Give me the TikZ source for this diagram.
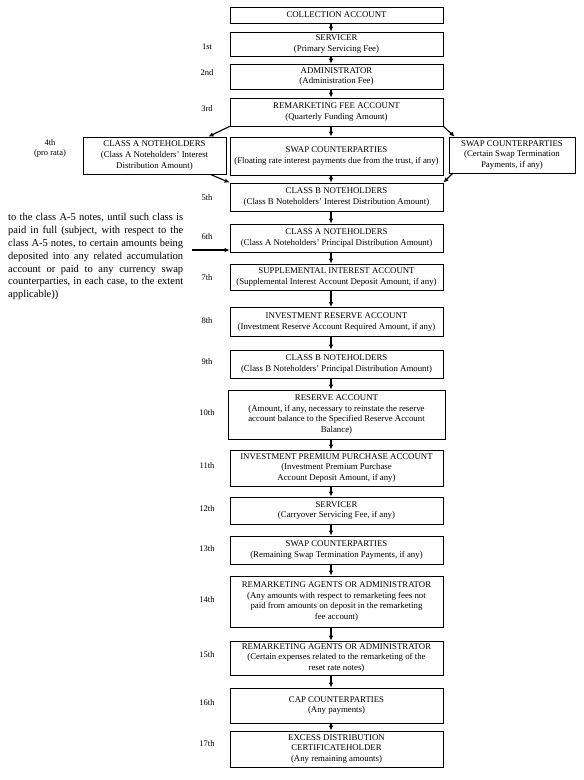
\documentclass[tikz,border=0pt]{standalone}
\usepackage{fontspec}
\setmainfont{Liberation Serif}
\usetikzlibrary{arrows.meta,calc}
\begin{document}
\begin{tikzpicture}[x=1pt,y=-1pt,
  bx/.style={draw,line width=0.8pt,minimum width=213pt,inner sep=1pt,align=center,
    font=\fontsize{8.8}{10.8}\selectfont},
  lbl/.style={font=\fontsize{8.5}{10}\selectfont,align=center,inner sep=0pt},
  arr/.style={line width=1.1pt,-{Latex[length=5pt,width=4.5pt]}}]
\useasboundingbox (0,0) rectangle (584,780);
\coordinate (ax) at (331,0);
% main column
\node[bx,minimum height=16pt] (c0) at (336.5,15) {COLLECTION ACCOUNT};
\node[bx,minimum height=24pt] (b1) at (336.5,44) {SERVICER\\(Primary Servicing Fee)};
\node[bx,minimum height=25pt] (b2) at (336.5,76.5) {ADMINISTRATOR\\(Administration Fee)};
\node[bx,minimum height=28pt] (b3) at (336.5,112) {REMARKETING FEE ACCOUNT\\(Quarterly Funding Amount)};
\node[bx,minimum width=143pt,minimum height=37pt] (L) at (154.5,155.5) {CLASS A NOTEHOLDERS\\(Class A Noteholders’ Interest\\Distribution Amount)};
\node[bx,minimum height=38pt] (C) at (336.5,156) {SWAP COUNTERPARTIES\\(Floating rate interest payments due from the trust, if any)};
\node[bx,minimum width=126pt,minimum height=36pt] (R) at (512,155) {SWAP COUNTERPARTIES\\(Certain Swap Termination\\Payments, if any)};
\node[bx,minimum height=28pt] (b5) at (336.5,197) {CLASS B NOTEHOLDERS\\(Class B Noteholders’ Interest Distribution Amount)};
\node[bx,minimum height=28pt] (b6) at (336.5,238) {CLASS A NOTEHOLDERS\\(Class A Noteholders’ Principal Distribution Amount)};
\node[bx,minimum height=26pt] (b7) at (336.5,277) {SUPPLEMENTAL INTEREST ACCOUNT\\(Supplemental Interest Account Deposit Amount, if any)};
\node[bx,minimum height=29pt] (b8) at (336.5,322) {INVESTMENT RESERVE ACCOUNT\\(Investment Reserve Account Required Amount, if any)};
\node[bx,minimum height=28pt] (b9) at (336.5,364) {CLASS B NOTEHOLDERS\\(Class B Noteholders’ Principal Distribution Amount)};
\node[bx,minimum width=217pt,minimum height=49pt] (b10) at (336.5,414.5) {RESERVE ACCOUNT\\(Amount, if any, necessary to reinstate the reserve\\account balance to the Specified Reserve Account\\Balance)};
\node[bx,minimum height=36pt] (b11) at (336.5,468) {INVESTMENT PREMIUM PURCHASE ACCOUNT\\(Investment Premium Purchase\\Account Deposit Amount, if any)};
\node[bx,minimum height=27pt] (b12) at (336.5,510.5) {SERVICER\\(Carryover Servicing Fee, if any)};
\node[bx,minimum height=28pt] (b13) at (336.5,550) {SWAP COUNTERPARTIES\\(Remaining Swap Termination Payments, if any)};
\node[bx,minimum height=51pt] (b14) at (336.5,601.5) {REMARKETING AGENTS OR ADMINISTRATOR\\(Any amounts with respect to remarketing fees not\\paid from amounts on deposit in the remarketing\\fee account)};
\node[bx,minimum height=34pt] (b15) at (336.5,658) {REMARKETING AGENTS OR ADMINISTRATOR\\(Certain expenses related to the remarketing of the\\reset rate notes)};
\node[bx,minimum height=35pt] (b16) at (336.5,705.5) {CAP COUNTERPARTIES\\(Any payments)};
\node[bx,minimum height=36pt] (b17) at (336.5,749) {EXCESS DISTRIBUTION\\CERTIFICATEHOLDER\\(Any remaining amounts)};
% priority labels
\node[lbl] (l1) at (207,47) {1st};
\node[lbl] (l2) at (207,73) {2nd};
\node[lbl] (l3) at (207,109) {3rd};
\node[lbl] (l4) at (50,148) {4th\\(pro rata)};
\node[lbl] (l5) at (207,198) {5th};
\node[lbl] (l6) at (207,237) {6th};
\node[lbl] (l7) at (207,278) {7th};
\node[lbl] (l8) at (207,321) {8th};
\node[lbl] (l9) at (207,362) {9th};
\node[lbl] (l10) at (207,413) {10th};
\node[lbl] (l11) at (207,466) {11th};
\node[lbl] (l12) at (207,509) {12th};
\node[lbl] (l13) at (207,549) {13th};
\node[lbl] (l14) at (207,600) {14th};
\node[lbl] (l15) at (207,655) {15th};
\node[lbl] (l16) at (207,703) {16th};
\node[lbl] (l17) at (207,744) {17th};
% side paragraph
\node[anchor=north west,inner sep=0pt,text width=175pt,align=justify,
  font=\fontsize{10.5}{12.8}\selectfont] (para) at (8,213.5)
  {to the class A-5 notes, until such class is\linebreak
   paid in full (subject, with respect to the\linebreak
   class A-5 notes, to certain amounts being\linebreak
   deposited into any related accumulation\linebreak
   account or paid to any currency swap\linebreak
   counterparties, in each case, to the extent\linebreak
   applicable))};
\coordinate (pa) at (192,250);
\draw[arr] (pa) -- (pa -| b6.west);
% arrows
\draw[arr] (c0.south -| ax) -- (b1.north -| ax);
\draw[arr] (b1.south -| ax) -- (b2.north -| ax);
\draw[arr] (b2.south -| ax) -- (b3.north -| ax);
\draw[arr] (b3.south west) -- ($(L.north east)+(-18,0)$);
\draw[arr] (b3.south -| ax) -- (C.north -| ax);
\draw[arr] (b3.south east) -- ($(R.north west)+(6,0)$);
\draw[arr] ($(L.south east)+(-16,0)$) -- (b5.north west);
\draw[arr] (C.south -| ax) -- (b5.north -| ax);
\draw[arr] ($(R.south west)+(4,0)$) -- (b5.north east);
\draw[arr] (b5.south -| ax) -- (b6.north -| ax);
\draw[arr] (b6.south -| ax) -- (b7.north -| ax);
\draw[arr] (b7.south -| ax) -- (b8.north -| ax);
\draw[arr] (b8.south -| ax) -- (b9.north -| ax);
\draw[arr] (b9.south -| ax) -- (b10.north -| ax);
\draw[arr] (b10.south -| ax) -- (b11.north -| ax);
\draw[arr] (b11.south -| ax) -- (b12.north -| ax);
\draw[arr] (b12.south -| ax) -- (b13.north -| ax);
\draw[arr] (b13.south -| ax) -- (b14.north -| ax);
\draw[arr] (b14.south -| ax) -- (b15.north -| ax);
\draw[arr] (b15.south -| ax) -- (b16.north -| ax);
\draw[arr] (b16.south -| ax) -- (b17.north -| ax);
\end{tikzpicture}
\end{document}
